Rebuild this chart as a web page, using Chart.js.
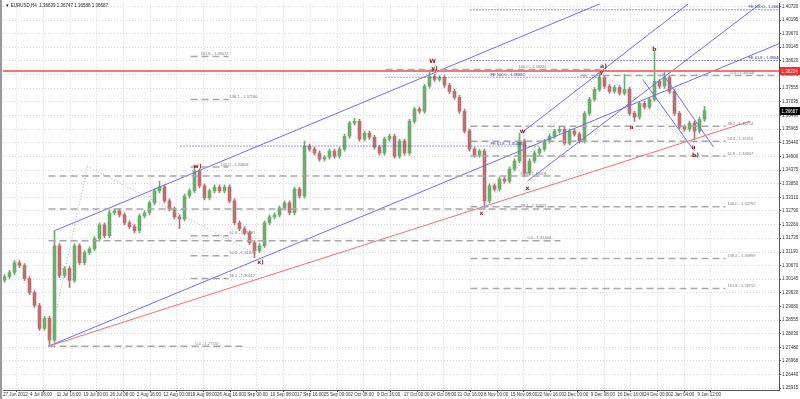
<!DOCTYPE html>
<html>
<head>
<meta charset="utf-8">
<script src="https://cdn.jsdelivr.net/npm/chart.js@4.4.0/dist/chart.umd.min.js"></script>
<style>
html, body { margin: 0; padding: 0; background: #fff; }
canvas { display: block; }
</style>
</head>
<body>
<canvas id="chart" width="800" height="399"></canvas>
<script>
// EURUSD H4 candles (one candle per ~5px)
const opens = [1.3010,1.3024,1.3040,1.3078,1.3067,1.3016,1.2962,1.2912,1.2823,1.2862,
1.2777,1.3144,1.3028,1.3055,1.3009,1.3144,1.3078,1.3117,1.3132,1.3171,
1.3225,1.3183,1.3272,1.3279,1.3264,1.3233,1.3218,1.3202,1.3260,1.3272,
1.3310,1.3357,1.3372,1.3318,1.3287,1.3256,1.3248,1.3337,1.3357,1.3434,
1.3376,1.3330,1.3357,1.3372,1.3357,1.3372,1.3318,1.3233,1.3210,1.3194,
1.3156,1.3125,1.3144,1.3233,1.3256,1.3264,1.3291,1.3310,1.3272,1.3364,
1.3337,1.3531,1.3519,1.3504,1.3480,1.3488,1.3511,1.3492,1.3519,1.3569,
1.3620,1.3627,1.3558,1.3581,1.3565,1.3527,1.3504,1.3558,1.3569,1.3492,
1.3550,1.3504,1.3627,1.3674,1.3666,1.3763,1.3801,1.3790,1.3797,1.3767,
1.3743,1.3720,1.3666,1.3589,1.3519,1.3496,1.3511,1.3318,1.3376,1.3364,
1.3403,1.3395,1.3442,1.3473,1.3550,1.3426,1.3473,1.3504,1.3519,1.3550,
1.3569,1.3589,1.3596,1.3542,1.3589,1.3577,1.3550,1.3658,1.3712,1.3751,
1.3797,1.3763,1.3743,1.3759,1.3736,1.3751,1.3658,1.3643,1.3697,1.3682,
1.3712,1.3782,1.3763,1.3797,1.3743,1.3658,1.3604,1.3596,1.3620,1.3589,
1.3635];
const highs = [1.3032,1.3048,1.3086,1.3086,1.3075,1.3024,1.2970,1.2920,1.2870,1.2870,
1.3202,1.3152,1.3063,1.3063,1.3152,1.3152,1.3125,1.3140,1.3179,1.3233,
1.3233,1.3280,1.3287,1.3287,1.3272,1.3241,1.3226,1.3268,1.3280,1.3318,
1.3365,1.3395,1.3380,1.3326,1.3295,1.3264,1.3345,1.3365,1.3453,1.3442,
1.3384,1.3365,1.3380,1.3380,1.3380,1.3380,1.3326,1.3241,1.3218,1.3202,
1.3164,1.3152,1.3241,1.3264,1.3272,1.3299,1.3318,1.3318,1.3372,1.3372,
1.3550,1.3539,1.3527,1.3512,1.3496,1.3519,1.3519,1.3527,1.3577,1.3628,
1.3639,1.3635,1.3589,1.3589,1.3573,1.3535,1.3566,1.3577,1.3577,1.3558,
1.3558,1.3635,1.3682,1.3682,1.3771,1.3824,1.3809,1.3805,1.3805,1.3775,
1.3751,1.3728,1.3674,1.3597,1.3527,1.3519,1.3519,1.3384,1.3384,1.3411,
1.3411,1.3450,1.3481,1.3581,1.3558,1.3481,1.3512,1.3527,1.3558,1.3577,
1.3597,1.3604,1.3604,1.3597,1.3597,1.3585,1.3666,1.3720,1.3759,1.3817,
1.3805,1.3771,1.3767,1.3767,1.3809,1.3759,1.3666,1.3705,1.3705,1.3720,
1.3898,1.3790,1.3817,1.3805,1.3751,1.3666,1.3612,1.3628,1.3628,1.3643,
1.3685];
const lows = [1.3002,1.3016,1.3032,1.3059,1.3008,1.2954,1.2904,1.2815,1.2815,1.2754,
1.2769,1.3020,1.3020,1.2982,1.3001,1.3070,1.3070,1.3109,1.3124,1.3163,
1.3175,1.3175,1.3264,1.3256,1.3225,1.3210,1.3194,1.3194,1.3252,1.3264,
1.3302,1.3349,1.3310,1.3279,1.3248,1.3210,1.3240,1.3329,1.3349,1.3368,
1.3322,1.3322,1.3349,1.3349,1.3349,1.3310,1.3225,1.3202,1.3186,1.3148,
1.3098,1.3117,1.3136,1.3225,1.3248,1.3256,1.3283,1.3264,1.3264,1.3329,
1.3329,1.3511,1.3496,1.3472,1.3472,1.3480,1.3484,1.3484,1.3511,1.3561,
1.3612,1.3550,1.3550,1.3557,1.3519,1.3496,1.3496,1.3550,1.3484,1.3484,
1.3496,1.3496,1.3619,1.3658,1.3658,1.3755,1.3782,1.3782,1.3759,1.3735,
1.3712,1.3658,1.3581,1.3511,1.3488,1.3488,1.3287,1.3310,1.3356,1.3356,
1.3387,1.3387,1.3434,1.3465,1.3411,1.3418,1.3465,1.3496,1.3511,1.3542,
1.3561,1.3581,1.3534,1.3534,1.3569,1.3542,1.3542,1.3650,1.3704,1.3743,
1.3755,1.3735,1.3735,1.3728,1.3728,1.3650,1.3627,1.3635,1.3674,1.3674,
1.3704,1.3755,1.3755,1.3735,1.3650,1.3596,1.3588,1.3588,1.3558,1.3581,
1.3627];
const closes = [1.3024,1.3040,1.3078,1.3067,1.3016,1.2962,1.2912,1.2823,1.2862,1.2777,
1.3144,1.3028,1.3055,1.3009,1.3144,1.3078,1.3117,1.3132,1.3171,1.3225,
1.3183,1.3272,1.3279,1.3264,1.3233,1.3218,1.3202,1.3260,1.3272,1.3310,
1.3357,1.3372,1.3318,1.3287,1.3256,1.3248,1.3337,1.3357,1.3434,1.3376,
1.3330,1.3357,1.3372,1.3357,1.3372,1.3318,1.3233,1.3210,1.3194,1.3156,
1.3125,1.3144,1.3233,1.3256,1.3264,1.3291,1.3310,1.3272,1.3364,1.3337,
1.3531,1.3519,1.3504,1.3480,1.3488,1.3511,1.3492,1.3519,1.3569,1.3620,
1.3627,1.3558,1.3581,1.3565,1.3527,1.3504,1.3558,1.3569,1.3492,1.3550,
1.3504,1.3627,1.3674,1.3666,1.3763,1.3801,1.3790,1.3797,1.3767,1.3743,
1.3720,1.3666,1.3589,1.3519,1.3496,1.3511,1.3318,1.3376,1.3364,1.3403,
1.3395,1.3442,1.3473,1.3550,1.3426,1.3473,1.3504,1.3519,1.3550,1.3569,
1.3589,1.3596,1.3542,1.3589,1.3577,1.3550,1.3658,1.3712,1.3751,1.3797,
1.3763,1.3743,1.3759,1.3736,1.3751,1.3658,1.3643,1.3697,1.3682,1.3712,
1.3782,1.3763,1.3797,1.3743,1.3658,1.3604,1.3596,1.3620,1.3589,1.3635,
1.3669];

// time axis: tick position (candle index) and label
const xTickPos = [-0.3,5.1,10.44,15.78,21.12,26.46,31.8,37.14,42.48,47.82,53.16,58.5,63.84,
69.18,74.52,79.86,85.2,90.54,95.88,101.22,106.56,111.9,117.24,122.58,127.92,133.26,138.6];
const xTickLabels = ["27 Jun 2012","4 Jul 08:00","11 Jul 16:00","19 Jul 00:00","26 Jul 08:00",
"2 Aug 16:00","12 Aug 00:00","19 Aug 08:00","26 Aug 16:00","3 Sep 00:00","10 Sep 08:00",
"17 Sep 16:00","25 Sep 00:00","2 Oct 08:00","9 Oct 16:00","17 Oct 00:00","24 Oct 08:00",
"31 Oct 16:00","8 Nov 00:00","15 Nov 08:00","22 Nov 16:00","2 Dec 00:00","9 Dec 08:00",
"16 Dec 16:00","24 Dec 00:00","2 Jan 04:00","9 Jan 12:00"];

// price axis labels
const yTickVals = [1.40720,1.40195,1.39670,1.39145,1.38620,1.38090,1.37555,1.37035,1.36490,
1.35965,1.35440,1.34900,1.34375,1.33850,1.33310,1.32790,1.32260,1.31735,1.31190,1.30670,
1.30145,1.29620,1.29080,1.28555,1.28030,1.27480,1.26968,1.26440,1.25915];
const yMin = 1.25838, yMax = 1.40836;

const header = "EURUSD,H4  1.36639 1.36747 1.36588 1.36687";
const lastPrice = 1.36687;
const redLevel = 1.38224;

// trend lines: [x1, price1, x2, price2]
const blueLines = [
  [8.8, 1.2754, 155, 1.3929],
  [10, 1.3202, 119.2, 1.4084],
  [103.6, 1.3585, 136.8, 1.4084],
  [104.6, 1.3395, 151.2, 1.4084],
  [127.6, 1.3790, 138, 1.3511],
  [131.6, 1.3813, 141.8, 1.3527]
];
const redLines = [
  [8.8, 1.2754, 149.2, 1.3628]
];
const grayDotted = [
  [8.8, 1.2754, 16.6, 1.3453],
  [16.6, 1.3453, 50.6, 1.3109],
  [95.4, 1.3287, 119.2, 1.3821],
  [119.2, 1.3821, 138, 1.3527]
];

// fibo levels: [x1, x2, price, text, textX]
const fibLevels = [
  [37.2, 44.8, 1.3879, "161.8 - 1.39072", 39.2],
  [37.2, 44.8, 1.3712, "138.2 - 1.37180", 45],
  [37.2, 44.8, 1.3450, "100.0 - 1.34828", 43.2],
  [37.2, 44.8, 1.3183, "61.8 - 1.31781", 45],
  [37.2, 44.8, 1.3105, "50.0 - 1.31078", 45],
  [37.2, 44.8, 1.3017, "38.2 - 1.30117", 45],
  [8.8, 48.2, 1.2754, "0.0 - 1.27557", 38.2],
  [8.8, 111.2, 1.3415, "61.8 - 1.34018", 103.2],
  [8.8, 111.2, 1.3287, "38.2 - 1.32553", 103.2],
  [8.8, 111.2, 1.3163, "0.0 - 1.31404", 104.6],
  [76.2, 119.2, 1.3828, "100.0 - 1.38224", 102.8],
  [115.2, 155, 1.3805, "0.0 - 1.38068", 145.2],
  [93.2, 144.2, 1.3608, "38.2 - 1.36714", 144.6],
  [93.2, 144.2, 1.3550, "50.0 - 1.35910", 144.6],
  [93.2, 144.2, 1.3492, "61.8 - 1.34907", 144.6],
  [93.2, 144.2, 1.3295, "100.0 - 1.32792", 144.6],
  [93.2, 144.2, 1.3094, "138.2 - 1.30999", 144.6],
  [93.2, 144.2, 1.2978, "161.8 - 1.29752", 144.6]
];
const feLevels = [
  [93.2, 155, 1.4060, "FE 100.0 - 1.40621", 148.8],
  [93.2, 155, 1.3863, "FE 61.8 - 1.38644", 148.8],
  [76.2, 119.2, 1.3798, "FE 100.0 - 1.38082", 97.2],
  [35.2, 107, 1.3531, "FE 61.8 - 1.35438", 97.2]
];

// wave counts: [x, price, text]
const waveLabels = [
  [85.6, 1.3859, "W"], [86, 1.3832, "y)"], [38.6, 1.3453, "w)"], [51.2, 1.3078, "x)"],
  [95.4, 1.3268, "x"], [103.6, 1.3589, "w"], [104.6, 1.3368, "x"], [119.8, 1.3840, "a)"],
  [119.4, 1.3817, "y"], [125.4, 1.3604, "a"], [130, 1.3906, "b"], [137.8, 1.3527, "a"],
  [138.2, 1.3496, "b)"]
];

const bull = "#6aae6a", bear = "#bb7070";
const candleColor = i => closes[i] >= opens[i] ? bull : bear;

const wicks = closes.map((c, i) => ({ x: i, y: [lows[i], highs[i]] }));
const bodies = closes.map((c, i) => ({ x: i, y: [Math.min(opens[i], c), Math.max(opens[i], c)] }));

function seg(a, color, width, dash) {
  return {
    type: "line",
    data: [{ x: a[0], y: a[1] }, { x: a[2], y: a[3] }],
    borderColor: color, borderWidth: width, borderDash: dash,
    pointRadius: 0, fill: false, tension: 0, order: 1
  };
}

const lineSets = [];
fibLevels.forEach(l => lineSets.push(seg([l[0], l[2], l[1], l[2]], "#a8a8a8", 1.5, [7, 4])));
feLevels.forEach(l => lineSets.push(seg([l[0], l[2], l[1], l[2]], "#3a3ac8", 1, [1, 2])));
grayDotted.forEach(l => lineSets.push(seg(l, "#b0b0b0", 1, [1, 2])));
lineSets.push(seg([-0.3, redLevel, 155, redLevel], "#ff7070", 2, []));
redLines.forEach(l => lineSets.push(seg(l, "#ff6a6a", 1, [])));
blueLines.forEach(l => lineSets.push(seg(l, "#6e6ef0", 1, [])));

const overlay = {
  id: "overlay",
  beforeDraw(chart) {
    const c = chart.ctx;
    c.save();
    c.fillStyle = "#fff";
    c.fillRect(0, 0, chart.width, chart.height);
    c.fillStyle = "#9a9a9a";
    c.fillRect(0, 0, 2, chart.height);
    c.restore();
  },
  afterDatasetsDraw(chart) {
    const { ctx: c, scales: { x, y }, chartArea: a } = chart;
    c.save();
    c.beginPath();
    c.rect(a.left, a.top, a.right - a.left, a.bottom - a.top);
    c.clip();
    c.font = '4px "Liberation Sans"';
    c.textBaseline = "bottom";
    c.textAlign = "left";
    fibLevels.forEach(l => {
      c.fillStyle = "#7a7a7a";
      c.fillText(l[3], x.getPixelForValue(l[4]), y.getPixelForValue(l[2]) - 0.5);
    });
    feLevels.forEach(l => {
      c.fillStyle = "#30309a";
      c.fillText(l[3], x.getPixelForValue(l[4]), y.getPixelForValue(l[2]) - 0.5);
    });
    c.font = 'bold 6px "DejaVu Sans"';
    c.textAlign = "center";
    c.textBaseline = "middle";
    c.fillStyle = "#8b1c1c";
    waveLabels.forEach(w => c.fillText(w[2], x.getPixelForValue(w[0]), y.getPixelForValue(w[1])));
    c.restore();

    c.save();
    c.font = '4.5px "Liberation Sans"';
    c.textBaseline = "middle";
    c.textAlign = "left";
    c.fillStyle = "#222";
    c.fillText("\u25BC " + header, 5, 6);
    const box = (p, bg) => {
      const py = Math.round(y.getPixelForValue(p));
      c.fillStyle = bg;
      c.fillRect(a.right + 1, py - 4, chart.width - a.right - 1, 8);
      c.fillStyle = "#fff";
      c.fillText(p.toFixed(5), a.right + 2.5, py + 0.3);
    };
    box(redLevel, "#ff2a2a");
    box(lastPrice, "#000");
    c.restore();
  }
};

new Chart(document.getElementById("chart"), {
  type: "bar",
  data: {
    datasets: [
      ...lineSets,
      { data: wicks, barThickness: 1, grouped: false, order: 5,
        backgroundColor: ctx => candleColor(ctx.dataIndex) },
      { data: bodies, barThickness: 3, grouped: false, order: 4, minBarLength: 1,
        backgroundColor: ctx => candleColor(ctx.dataIndex) }
    ]
  },
  options: {
    responsive: false,
    animation: false,
    events: [],
    layout: { padding: { left: 3, top: 2, right: 0, bottom: 0 } },
    plugins: { legend: { display: false }, tooltip: { enabled: false } },
    scales: {
      x: {
        type: "linear", min: -0.3, max: 154.9, offset: false,
        afterBuildTicks: s => { s.ticks = xTickPos.map(v => ({ value: v })); },
        afterFit: s => { s.height = 9; },
        ticks: {
          autoSkip: false, maxRotation: 0, align: "start", padding: 0.5,
          font: { size: 4.5, family: "Liberation Sans" }, color: "#333",
          callback: (v, i) => xTickLabels[i]
        },
        grid: { color: "#d6d6d6", tickColor: "#555", tickLength: 2 },
        border: { color: "#555", dash: [1, 2] }
      },
      y: {
        position: "right", min: yMin, max: yMax,
        afterBuildTicks: s => { s.ticks = yTickVals.map(v => ({ value: v })); },
        afterFit: s => { s.width = 21; },
        ticks: {
          autoSkip: false, padding: 1,
          font: { size: 4.5, family: "Liberation Sans" }, color: "#333",
          callback: v => v.toFixed(5)
        },
        grid: { color: "#d6d6d6", tickColor: "#555", tickLength: 2 },
        border: { color: "#555", dash: [1, 2] }
      }
    }
  },
  plugins: [overlay]
});
</script>
</body>
</html>
